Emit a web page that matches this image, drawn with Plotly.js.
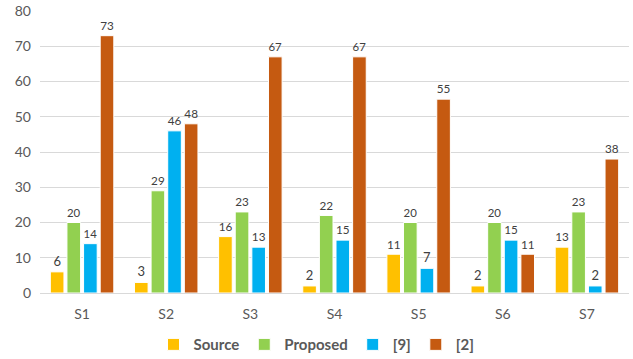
<!DOCTYPE html>
<html>
<head>
<meta charset="utf-8">
<script src="https://cdn.plot.ly/plotly-3.0.1.min.js"></script>
<style>html,body{margin:0;padding:0;background:#fff;}#chart{width:633px;height:359px;}</style>
</head>
<body>
<div id="chart"></div>
<script>
const categories = ["S1","S2","S3","S4","S5","S6","S7"];
const seriesNames = ["Source","Proposed","[9]","[2]"];
const source = [6,3,16,2,11,2,13];
const proposed = [20,29,23,22,20,20,23];
const ref9 = [14,46,13,15,7,15,2];
const ref2 = [73,48,67,67,55,11,38];
const colors = ["#FFC000","#92D050","#00B0F0","#C55A11"];
const values = [source, proposed, ref9, ref2];

const FONT = "Lato, 'Open Sans', sans-serif";
const traces = values.map((v,i)=>({
  type:"bar", name:seriesNames[i], x:categories, y:v,
  marker:{color:colors[i], line:{color:"#ffffff", width:1}},
  text:v.map(String), textposition:"outside", cliponaxis:false,
  textfont:{family:FONT, size:13, color:"#404040"}
}));

const layout = {
  width:633, height:359,
  margin:{l:40, r:4, t:11, b:66, autoexpand:false},
  paper_bgcolor:"#fff", plot_bgcolor:"#fff",
  barmode:"group", bargap:0.21, bargroupgap:0.18,
  font:{family:FONT, color:"#595959"},
  xaxis:{tickfont:{size:14, color:"#595959"}, showline:true, linecolor:"#D9D9D9", linewidth:1, ticks:"outside", ticklen:8, tickcolor:"rgba(0,0,0,0)", showgrid:false, automargin:false},
  yaxis:{range:[0,80], dtick:10, tickfont:{size:14, color:"#595959"}, gridcolor:"#D9D9D9", gridwidth:1, zeroline:false, showline:false, ticks:"", ticklabelstandoff:8, automargin:false},
  showlegend:true,
  legend:{orientation:"h", x:0.5, xanchor:"center", xref:"container", y:0.04, yanchor:"middle", yref:"container", font:{size:15, color:"#595959", family:FONT, weight:"bold"}, itemwidth:30, tracegroupgap:0}
};
Plotly.newPlot("chart", traces, layout, {displayModeBar:false, staticPlot:true});
</script>
</body>
</html>
